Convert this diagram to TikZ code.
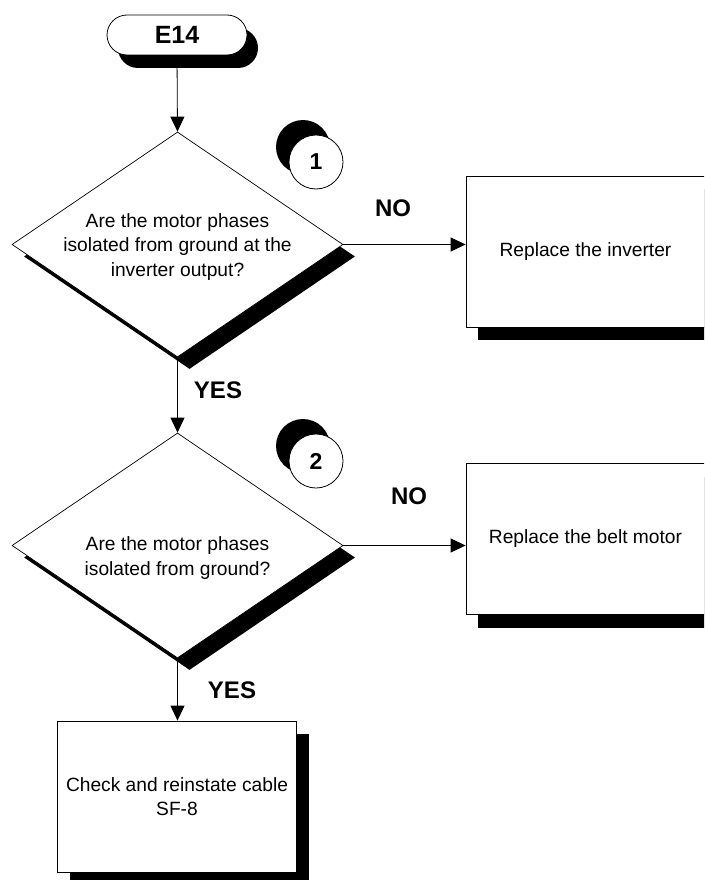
\documentclass[tikz,border=0pt]{standalone}
\usepackage{fontspec}
\setmainfont{Liberation Sans}
\usetikzlibrary{shapes.geometric,shapes.misc,shadows,arrows.meta,backgrounds}

\begin{document}
\begin{tikzpicture}[x=1pt,y=-1pt,
  solid shadow/.style={drop shadow={opacity=1,fill=black,
      shadow xshift=#1pt,shadow yshift=-#1pt}},
  terminal/.style={rounded rectangle,draw,fill=white,line width=0.8pt,
      minimum width=140,minimum height=40,inner sep=0,
      font=\fontsize{25}{28}\selectfont\bfseries,
      drop shadow={opacity=1,fill=black,shadow xshift=11pt,shadow yshift=-13pt}},
  decision/.style={diamond,draw,fill=white,line width=0.7pt,
      minimum width=331,minimum height=225,inner sep=0,solid shadow=12},
  qtext/.style={align=center,inner sep=0,font=\fontsize{19.2}{24.5}\selectfont},
  action/.style={rectangle,draw,fill=white,line width=0.8pt,
      minimum width=239,minimum height=151,inner sep=0,align=center,
      font=\fontsize{19.2}{24.5}\selectfont,
      drop shadow={opacity=1,fill=black,shadow xshift=12pt,shadow yshift=-13pt}},
  stepnum/.style={circle,draw,fill=white,line width=0.8pt,minimum size=54,
      inner sep=0,font=\fontsize{23}{25}\selectfont\bfseries,
      drop shadow={opacity=1,fill=black,shadow xshift=-13pt,shadow yshift=15pt}},
  answer/.style={inner sep=0,font=\fontsize{24}{26}\selectfont\bfseries},
  flow/.style={line width=0.8pt,-{Triangle[length=15pt,width=14pt]}}
]
\useasboundingbox (0,0) rectangle (704,880);
\clip (0,0) rectangle (704,880);

% start terminal
\node[terminal] (start) at (177,35) {E14};

% first check
\node[decision] (d1) at (177.5,244.5) {};
\node[qtext] (q1) at (177.5,247) {Are the motor phases\\isolated from ground at the\\inverter output?};
\node[stepnum] (n1) at (316,162) {1};
\node[action] (b1) at (585.5,251.5) {Replace the inverter};
\node[answer] (no1) at (393,208) {NO};
\node[answer] (yes1) at (218,390) {YES};

% second check
\node[decision] (d2) at (177.5,545.5) {};
\node[qtext] (q2) at (177.5,558) {Are the motor phases\\isolated from ground?};
\node[stepnum] (n2) at (316,461) {2};
\node[action] (b2) at (585.5,539) {Replace the belt motor};
\node[answer] (no2) at (409,496) {NO};
\node[answer] (yes2) at (232,690) {YES};

% final action
\node[action] (b3) at (177,796.5) {Check and reinstate cable\\SF-8};

% connectors behind the shapes and their shadows
\begin{scope}[on background layer]
  \draw[flow] (start.south) -- (d1.north);
  \draw[flow] (d1.east) -- (d1.east -| b1.west);
  \draw[flow] (d1.south) -- (d2.north);
  \draw[flow] (d2.east) -- (d2.east -| b2.west);
  \draw[flow] (d2.south) -- (d2.south |- b3.north);
\end{scope}
\end{tikzpicture}
\end{document}
